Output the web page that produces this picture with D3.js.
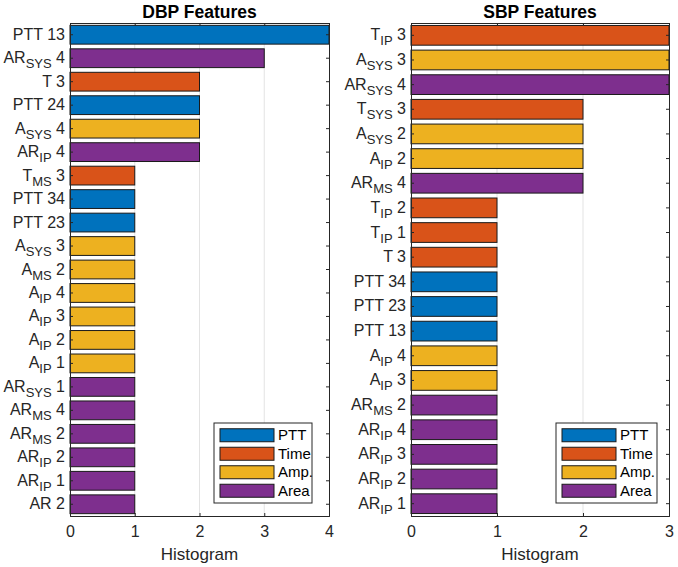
<!DOCTYPE html>
<html><head><meta charset="utf-8">
<script src="https://cdn.jsdelivr.net/npm/d3@7"></script>
<style>body{margin:0;background:#fff;} text{font-family:"Liberation Sans",Arial,sans-serif;}</style>
</head><body>
<svg id="c" width="678" height="567"></svg>
<script>
// label format: [base, subscript, suffix]
const dbpLabels = [["PTT","","13"],["AR","SYS","4"],["T","","3"],["PTT","","24"],["A","SYS","4"],["AR","IP","4"],["T","MS","3"],["PTT","","34"],["PTT","","23"],["A","SYS","3"],["A","MS","2"],["A","IP","4"],["A","IP","3"],["A","IP","2"],["A","IP","1"],["AR","SYS","1"],["AR","MS","4"],["AR","MS","2"],["AR","IP","2"],["AR","IP","1"],["AR","","2"]];
const dbpValues = [4,3,2,2,2,2,1,1,1,1,1,1,1,1,1,1,1,1,1,1,1];
const dbpGroups = ["PTT","Area","Time","PTT","Amp.","Area","Time","PTT","PTT","Amp.","Amp.","Amp.","Amp.","Amp.","Amp.","Area","Area","Area","Area","Area","Area"];

const sbpLabels = [["T","IP","3"],["A","SYS","3"],["AR","SYS","4"],["T","SYS","3"],["A","SYS","2"],["A","IP","2"],["AR","MS","4"],["T","IP","2"],["T","IP","1"],["T","","3"],["PTT","","34"],["PTT","","23"],["PTT","","13"],["A","IP","4"],["A","IP","3"],["AR","MS","2"],["AR","IP","4"],["AR","IP","3"],["AR","IP","2"],["AR","IP","1"]];
const sbpValues = [3,3,3,2,2,2,2,1,1,1,1,1,1,1,1,1,1,1,1,1];
const sbpGroups = ["Time","Amp.","Area","Time","Amp.","Amp.","Area","Time","Time","Time","PTT","PTT","PTT","Amp.","Amp.","Area","Area","Area","Area","Area"];

const legendNames = ["PTT","Time","Amp.","Area"];
const legendColors = ["#0072BD","#D95319","#EDB120","#7E2F8E"];
const dbpTicks = [0,1,2,3,4];
const sbpTicks = [0,1,2,3];

const color = d3.scaleOrdinal().domain(legendNames).range(legendColors);
const svg = d3.select("#c");
const axisCol = "#262626";

function panel(opt){
  const {x0,x1,y0,y1,labels,values,groups,xmax,ticks,title,legX} = opt;
  const g = svg.append("g");
  const x = d3.scaleLinear().domain([0,xmax]).range([x0,x1]);
  const idx = d3.range(labels.length);
  const y = d3.scaleBand().domain(idx).range([y0,y1]).paddingInner(0.2).paddingOuter(0.1);
  // grid
  g.selectAll("line.grid").data(ticks.slice(1,-1)).join("line")
    .attr("x1",d=>x(d)).attr("x2",d=>x(d)).attr("y1",y0).attr("y2",y1)
    .attr("stroke","#e3e3e3").attr("stroke-width",1);
  // bars
  g.selectAll("rect.bar").data(idx).join("rect")
    .attr("x",x(0)).attr("y",i=>y(i)).attr("width",i=>x(values[i])-x(0)).attr("height",y.bandwidth())
    .attr("fill",i=>color(groups[i])).attr("stroke","#1a1a1a").attr("stroke-width",1);
  // axes
  const ax = d3.axisBottom(x).tickValues(ticks).tickSize(-3).tickPadding(10).tickFormat(d3.format("d"));
  const gx = g.append("g").attr("transform",`translate(0,${y1})`).call(ax);
  const axTop = d3.axisTop(x).tickValues(ticks).tickSize(-3).tickFormat("");
  const gxt = g.append("g").attr("transform",`translate(0,${y0})`).call(axTop);
  const ay = d3.axisLeft(y).tickSize(-3).tickPadding(7).tickFormat("");
  const gy = g.append("g").attr("transform",`translate(${x0},0)`).call(ay);
  const ayr = d3.axisRight(y).tickSize(-3).tickFormat("");
  const gyr = g.append("g").attr("transform",`translate(${x1},0)`).call(ayr);
  [gx,gxt,gy,gyr].forEach(a=>{
    a.select(".domain").attr("stroke",axisCol).attr("stroke-width",1);
    a.selectAll(".tick line").attr("stroke",axisCol);
  });
  gx.selectAll("text").attr("font-size",16).attr("fill",axisCol).attr("font-family","Liberation Sans, Arial, sans-serif");
  // y tick labels with subscripts
  const lab = g.selectAll("text.ylab").data(idx).join("text")
    .attr("x",x0-5).attr("y",i=>y(i)+y.bandwidth()/2+5)
    .attr("text-anchor","end").attr("font-size",16).attr("fill",axisCol);
  lab.each(function(i){
    const t = d3.select(this); const [b,s,n] = labels[i];
    t.append("tspan").text(b);
    if(s){ t.append("tspan").attr("dy",5).attr("font-size",13).text(s);
      t.append("tspan").attr("dy",-5).text(" "+n); }
    else t.append("tspan").text(" "+n);
  });
  // title
  g.append("text").attr("x",(x0+x1)/2).attr("y",y0-5).attr("text-anchor","middle")
    .attr("font-size",17.5).attr("font-weight","bold").attr("fill","#000").text(title);
  g.append("text").attr("x",(x0+x1)/2).attr("y",y1+44).attr("text-anchor","middle")
    .attr("font-size",17).attr("fill",axisCol).text("Histogram");
  // legend
  const lw = legX[1]-legX[0], ly0=423, ly1=503;
  const lg = g.append("g");
  lg.append("rect").attr("x",legX[0]).attr("y",ly0).attr("width",lw).attr("height",ly1-ly0)
    .attr("fill","#fff").attr("stroke","#262626").attr("stroke-width",1);
  const step = (ly1-ly0-6)/4;
  legendNames.forEach((n,k)=>{
    const cy = ly0+3+step*k+step/2;
    lg.append("rect").attr("x",legX[0]+6).attr("y",cy-6.5).attr("width",54).attr("height",13)
      .attr("fill",legendColors[k]).attr("stroke","#1a1a1a");
    lg.append("text").attr("x",legX[0]+64).attr("y",cy+5).attr("font-size",15).attr("fill","#000").text(n);
  });
}

panel({x0:70,x1:329,y0:23,y1:516,labels:dbpLabels,values:dbpValues,groups:dbpGroups,xmax:4,ticks:dbpTicks,title:"DBP Features",legX:[214,312]});
panel({x0:411,x1:669,y0:23,y1:516,labels:sbpLabels,values:sbpValues,groups:sbpGroups,xmax:3,ticks:sbpTicks,title:"SBP Features",legX:[556,657]});
</script>
</body></html>
